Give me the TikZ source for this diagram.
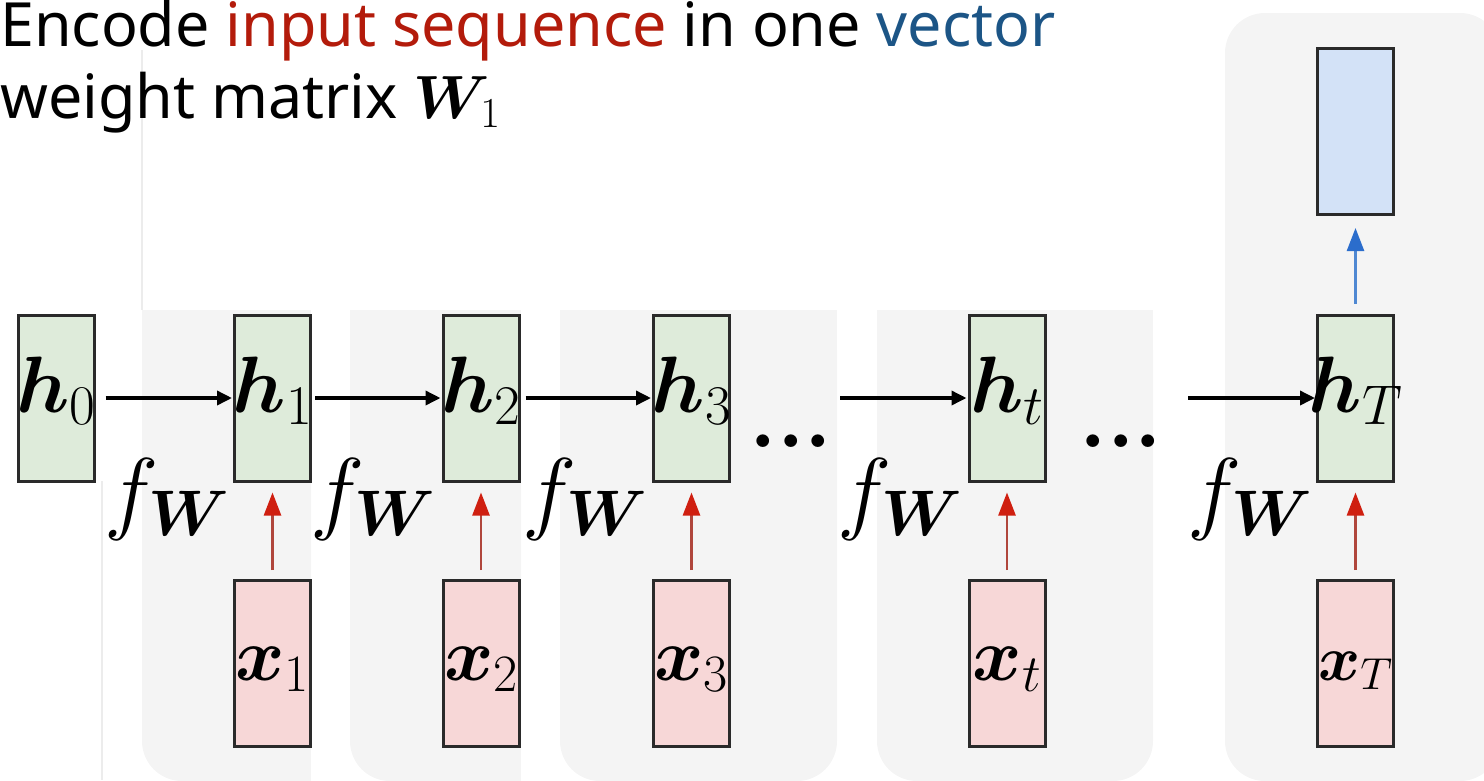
\RequirePackage{fix-cm}
\documentclass[tikz,border=0pt]{standalone}
\usepackage{amsmath,bm}
\usepackage{fontspec}
\newfontfamily\titlefont{Noto Sans}
\usetikzlibrary{arrows.meta}

\definecolor{panelgray}{HTML}{F4F4F4}
\definecolor{faintline}{HTML}{ECECEC}
\definecolor{hgreen}{HTML}{DEEBDA}
\definecolor{xpink}{HTML}{F7D7D7}
\definecolor{yblue}{HTML}{D3E2F7}
\definecolor{boxline}{HTML}{2A2A2A}
\definecolor{titlered}{HTML}{B31B0B}
\definecolor{titleblue}{HTML}{1C5586}
\definecolor{arrred}{HTML}{CF1F10}
\definecolor{shaftred}{HTML}{B0463C}
\definecolor{arrblue}{HTML}{2B6DCC}
\definecolor{shaftblue}{HTML}{4F88D2}

\tikzset{
  cell/.style={draw=boxline, line width=3pt, minimum width=76pt,
    minimum height=166pt, inner sep=0pt},
  hcell/.style={cell, fill=hgreen},
  xcell/.style={cell, fill=xpink},
  ycell/.style={cell, fill=yblue},
  hlabel/.style={anchor=base, inner sep=0pt, font=\fontsize{80}{84}\selectfont},
  xlabel/.style={anchor=base, inner sep=0pt, font=\fontsize{75}{79}\selectfont},
  flabel/.style={anchor=base, inner sep=0pt, font=\fontsize{92}{96}\selectfont},
  dotslabel/.style={anchor=base, inner sep=0pt, font=\fontsize{88}{92}\selectfont\bfseries},
  titleline/.style={anchor=base west, inner sep=0pt, font=\titlefont\fontsize{61}{65}\selectfont},
  flow/.style={draw=black, line width=3.5pt, -{Triangle[length=15pt,width=14pt]}},
  inarrow/.style={draw=shaftred, line width=2.5pt,
    -{Triangle[length=23pt,width=17pt,color=arrred]}, shorten <=9pt, shorten >=10pt},
  outarrow/.style={draw=shaftblue, line width=2.5pt,
    -{Triangle[length=23pt,width=17pt,color=arrblue]}, shorten <=10pt, shorten >=12pt},
  panel/.style={fill=panelgray},
  faint/.style={draw=faintline, line width=1.2pt}
}

\begin{document}
\begin{tikzpicture}[x=1pt, y=-1pt]
\useasboundingbox (0,0) rectangle (1484,780);

% background panels, one per time step (rounded only where the corner shows)
\fill[panel, rounded corners=40pt] (142,310) rectangle (311,781);
\fill[panel] (142,310) rectangle (311,400);
\fill[panel] (250,600) rectangle (311,781);

\fill[panel, rounded corners=40pt] (350,310) rectangle (521,781);
\fill[panel] (350,310) rectangle (521,400);
\fill[panel] (460,600) rectangle (521,781);

\fill[panel, rounded corners=40pt] (560,310) rectangle (837,781);
\fill[panel] (560,310) rectangle (837,400);

\fill[panel, rounded corners=40pt] (877,310) rectangle (1153,781);
\fill[panel] (877,310) rectangle (1153,400);

\fill[panel, rounded corners=40pt] (1225,13) rectangle (1500,781);

% thin guide lines at the left
\draw[faint] (142,50) -- (142,310);
\draw[faint] (102,481) -- (102,780);

% title
\node[titleline] (title1) at (0,46)
  {Encode {\color{titlered}input sequence} in one {\color{titleblue}vector}};
\node[titleline] (title2) at (0,118) {weight matrix $\boldsymbol{W}_1$};

% hidden states
\node[hcell] (h0) at (56,398) {};
\node[hcell] (h1) at (272.5,398) {};
\node[hcell] (h2) at (481,398) {};
\node[hcell] (h3) at (691.5,398) {};
\node[hcell] (ht) at (1007,398) {};
\node[hcell] (hT) at (1355.5,398) {};

% inputs
\node[xcell] (x1) at (272.5,663.5) {};
\node[xcell] (x2) at (481,663.5) {};
\node[xcell] (x3) at (691.5,663.5) {};
\node[xcell] (xt) at (1007,663.5) {};
\node[xcell] (xT) at (1355.5,663.5) {};

% encoded vector
\node[ycell] (y) at (1355.5,131.5) {};

% labels inside the cells
\node[hlabel] (lh0) at (56,412) {$\boldsymbol{h}_0$};
\node[hlabel] (lh1) at (272.5,412) {$\boldsymbol{h}_1$};
\node[hlabel] (lh2) at (481,412) {$\boldsymbol{h}_2$};
\node[hlabel] (lh3) at (691.5,412) {$\boldsymbol{h}_3$};
\node[hlabel] (lht) at (1007,412) {$\boldsymbol{h}_t$};
\node[hlabel] (lhT) at (1355.5,412) {$\boldsymbol{h}_T$};

\node[xlabel] (lx1) at (272.5,680) {$\boldsymbol{x}_1$};
\node[xlabel] (lx2) at (481,680) {$\boldsymbol{x}_2$};
\node[xlabel] (lx3) at (691.5,680) {$\boldsymbol{x}_3$};
\node[xlabel] (lxt) at (1007,680) {$\boldsymbol{x}_t$};
\node[xlabel, font=\fontsize{64}{68}\selectfont] (lxT) at (1355.5,680) {$\boldsymbol{x}_T$};

% recurrence function labels
\node[flabel] (f1) at (167,522) {$f_{\boldsymbol{W}}$};
\node[flabel] (f2) at (373,522) {$f_{\boldsymbol{W}}$};
\node[flabel] (f3) at (585,522) {$f_{\boldsymbol{W}}$};
\node[flabel] (f4) at (900,522) {$f_{\boldsymbol{W}}$};
\node[flabel] (f5) at (1250,522) {$f_{\boldsymbol{W}}$};

% skipped steps
\node[dotslabel] (dots1) at (791,447) {...};
\node[dotslabel] (dots2) at (1121,447) {...};

% recurrent connections
\coordinate (gap1) at (840,398);
\coordinate (gap2) at (1188,398);
\draw[flow, shorten <=10pt, shorten >=1pt] (h0) -- (h1);
\draw[flow, shorten <=3pt, shorten >=1pt] (h1) -- (h2);
\draw[flow, shorten <=5pt, shorten >=1pt] (h2) -- (h3);
\draw[flow, shorten >=1pt] (gap1) -- (ht);
\draw[flow, shorten >=1pt] (gap2) -- (hT);

% input connections
\draw[inarrow] (x1) -- (h1);
\draw[inarrow] (x2) -- (h2);
\draw[inarrow] (x3) -- (h3);
\draw[inarrow] (xt) -- (ht);
\draw[inarrow] (xT) -- (hT);

% output connection
\draw[outarrow] (hT) -- (y);
\end{tikzpicture}
\end{document}
